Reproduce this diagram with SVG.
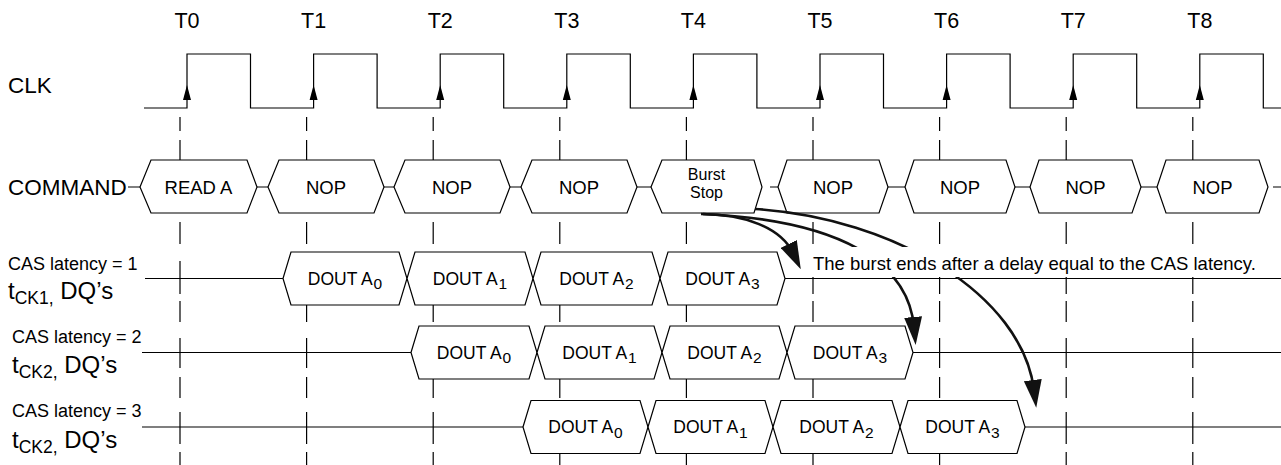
<svg xmlns="http://www.w3.org/2000/svg" width="1281" height="465" viewBox="0 0 1281 465">
<style>
text{font-family:"Liberation Sans",Arial,sans-serif;fill:#000}
.ln{fill:none;stroke:#000;stroke-width:1.2}
.dash{fill:none;stroke:#000;stroke-width:1.2}
.box{fill:#fff;stroke:#000;stroke-width:1.2}
.tl{font-size:21.5px;text-anchor:middle}
.big{font-size:22.5px}
.tck{font-size:24px}
.cmd{font-size:18.5px;text-anchor:middle}
.bs{font-size:16px;text-anchor:middle}
.dq{font-size:17.5px;text-anchor:middle}
.cas{font-size:18px}
.cv{fill:none;stroke:#111;stroke-width:2.6;marker-end:url(#ah)}
</style>
<defs>
<path id="dl" d="M0,117V131M0,140V160M0,222V244M0,261V294M0,301V322M0,338V368M0,377V398M0,412V444M0,452V465"/>
<path id="ca" d="M0,85L-4,100L4,100Z"/>
<marker id="ah" viewBox="0 0 28 18" refX="10" refY="9" markerWidth="28" markerHeight="18" markerUnits="userSpaceOnUse" orient="auto">
<path d="M0,0L28,9L0,18Z" fill="#111"/>
</marker>
</defs>
<rect width="1281" height="465" fill="#fff"/>

<g id="gridlines" class="dash">
<use href="#dl" x="180"/><use href="#dl" x="306.6"/><use href="#dl" x="433.2"/><use href="#dl" x="559.8"/><use href="#dl" x="686.4"/><use href="#dl" x="813"/><use href="#dl" x="939.6"/><use href="#dl" x="1066.2"/><use href="#dl" x="1192.8"/>
</g>

<g id="tlabels">
<text class="tl" x="187" y="28">T0</text>
<text class="tl" x="313.6" y="28">T1</text>
<text class="tl" x="440.2" y="28">T2</text>
<text class="tl" x="566.8" y="28">T3</text>
<text class="tl" x="693.4" y="28">T4</text>
<text class="tl" x="820" y="28">T5</text>
<text class="tl" x="946.6" y="28">T6</text>
<text class="tl" x="1073.2" y="28">T7</text>
<text class="tl" x="1199.8" y="28">T8</text>
</g>

<g id="clk">
<text class="big" x="8" y="93">CLK</text>
<path class="ln" d="M144,108H187V54H250.5V108H313.6V54H377.1V108H440.2V54H503.7V108H566.8V54H630.3V108H693.4V54H756.9V108H820V54H883.5V108H946.6V54H1010.1V108H1073.2V54H1136.7V108H1199.8V54H1263.3V108H1281"/>
<g fill="#000">
<use href="#ca" x="187"/><use href="#ca" x="313.6"/><use href="#ca" x="440.2"/><use href="#ca" x="566.8"/><use href="#ca" x="693.4"/><use href="#ca" x="820"/><use href="#ca" x="946.6"/><use href="#ca" x="1073.2"/><use href="#ca" x="1199.8"/>
</g>
</g>

<g id="command">
<text class="big" x="8" y="195">COMMAND</text>
<path class="ln" d="M128,187H140M257,187H268M384,187H394M510,187H521M637,187H651M770,187H778M888,187H905M1015,187H1030M1141,187H1157M1273,187H1281"/>
<g id="cmd0"><polygon class="box" points="140,187 151,160 247,160 257,187 247,213 151,213"/><text class="cmd" x="198.5" y="193.5">READ A</text></g>
<g id="cmd1"><polygon class="box" points="268,187 279,160 374,160 384,187 374,213 279,213"/><text class="cmd" x="326" y="193.5">NOP</text></g>
<g id="cmd2"><polygon class="box" points="394,187 405,160 500,160 510,187 500,213 405,213"/><text class="cmd" x="452" y="193.5">NOP</text></g>
<g id="cmd3"><polygon class="box" points="521,187 532,160 627,160 637,187 627,213 532,213"/><text class="cmd" x="579" y="193.5">NOP</text></g>
<g id="cmd4"><polygon class="box" points="651,187 662,160 754,160 762,187 754,213 662,213"/><text class="bs" x="706.5" y="180">Burst</text><text class="bs" x="706.5" y="197.5">Stop</text></g>
<g id="cmd5"><polygon class="box" points="778,187 787,160 879,160 888,187 879,213 787,213"/><text class="cmd" x="833" y="193.5">NOP</text></g>
<g id="cmd6"><polygon class="box" points="905,187 914,160 1006,160 1015,187 1006,213 914,213"/><text class="cmd" x="960" y="193.5">NOP</text></g>
<g id="cmd7"><polygon class="box" points="1030,187 1039,160 1132,160 1141,187 1132,213 1039,213"/><text class="cmd" x="1085.5" y="193.5">NOP</text></g>
<g id="cmd8"><polygon class="box" points="1157,187 1166,160 1259,160 1268,187 1259,213 1166,213"/><text class="cmd" x="1212.5" y="193.5">NOP</text></g>
</g>

<g id="cl1">
<text class="cas" x="8" y="270">CAS latency = 1</text>
<text class="tck" x="8" y="299">t<tspan font-size="17.5" dy="5">CK1,</tspan><tspan dy="-5"> DQ’s</tspan></text>
<path class="ln" d="M145,278.5H283M785,278.5H1281"/>
<g id="cl1a0"><polygon class="box" points="283,278.5 291,252 399,252 407,278.5 399,305 291,305"/><text class="dq" x="345" y="284.5">DOUT A<tspan dx="1" dy="4.5" font-size="15.5">0</tspan></text></g>
<g id="cl1a1"><polygon class="box" points="407,278.5 415,252 525,252 533,278.5 525,305 415,305"/><text class="dq" x="470" y="284.5">DOUT A<tspan dx="1" dy="4.5" font-size="15.5">1</tspan></text></g>
<g id="cl1a2"><polygon class="box" points="533,278.5 541,252 652,252 660,278.5 652,305 541,305"/><text class="dq" x="596.5" y="284.5">DOUT A<tspan dx="1" dy="4.5" font-size="15.5">2</tspan></text></g>
<g id="cl1a3"><polygon class="box" points="660,278.5 668,252 777,252 785,278.5 777,305 668,305"/><text class="dq" x="722.5" y="284.5">DOUT A<tspan dx="1" dy="4.5" font-size="15.5">3</tspan></text></g>
</g>

<g id="cl2">
<text class="cas" x="12" y="343">CAS latency = 2</text>
<text class="tck" x="12" y="373">t<tspan font-size="17.5" dy="5">CK2,</tspan><tspan dy="-5"> DQ’s</tspan></text>
<path class="ln" d="M142,352.5H411M913,352.5H1281"/>
<g id="cl2a0"><polygon class="box" points="411,352.5 419,326 529,326 537,352.5 529,379 419,379"/><text class="dq" x="474" y="358.5">DOUT A<tspan dx="1" dy="4.5" font-size="15.5">0</tspan></text></g>
<g id="cl2a1"><polygon class="box" points="537,352.5 545,326 654,326 662,352.5 654,379 545,379"/><text class="dq" x="599.5" y="358.5">DOUT A<tspan dx="1" dy="4.5" font-size="15.5">1</tspan></text></g>
<g id="cl2a2"><polygon class="box" points="662,352.5 670,326 779,326 787,352.5 779,379 670,379"/><text class="dq" x="724.5" y="358.5">DOUT A<tspan dx="1" dy="4.5" font-size="15.5">2</tspan></text></g>
<g id="cl2a3"><polygon class="box" points="787,352.5 795,326 905,326 913,352.5 905,379 795,379"/><text class="dq" x="850" y="358.5">DOUT A<tspan dx="1" dy="4.5" font-size="15.5">3</tspan></text></g>
</g>

<g id="cl3">
<text class="cas" x="12" y="417">CAS latency = 3</text>
<text class="tck" x="12" y="448">t<tspan font-size="17.5" dy="5">CK2,</tspan><tspan dy="-5"> DQ’s</tspan></text>
<path class="ln" d="M142,427H523M1025,427H1281"/>
<g id="cl3a0"><polygon class="box" points="523,427 531,400.5 640,400.5 648,427 640,453.5 531,453.5"/><text class="dq" x="585.5" y="433">DOUT A<tspan dx="1" dy="4.5" font-size="15.5">0</tspan></text></g>
<g id="cl3a1"><polygon class="box" points="648,427 656,400.5 765,400.5 773,427 765,453.5 656,453.5"/><text class="dq" x="710.5" y="433">DOUT A<tspan dx="1" dy="4.5" font-size="15.5">1</tspan></text></g>
<g id="cl3a2"><polygon class="box" points="773,427 781,400.5 892,400.5 900,427 892,453.5 781,453.5"/><text class="dq" x="836.5" y="433">DOUT A<tspan dx="1" dy="4.5" font-size="15.5">2</tspan></text></g>
<g id="cl3a3"><polygon class="box" points="900,427 908,400.5 1017,400.5 1025,427 1017,453.5 908,453.5"/><text class="dq" x="962.5" y="433">DOUT A<tspan dx="1" dy="4.5" font-size="15.5">3</tspan></text></g>
</g>

<g id="connectors">
<path class="cv" d="M701,214C745,214 781,228 793,253"/>
<path class="cv" d="M703,214C840,220 908,262 914,327"/>
<path class="cv" d="M755,209C895,218 1022,295 1034,390"/>
</g>

<g id="note">
<rect x="805" y="247" width="460" height="30" fill="#fff"/>
<text x="813" y="270" font-size="18.5">The burst ends after a delay equal to the CAS latency.</text>
</g>
</svg>
